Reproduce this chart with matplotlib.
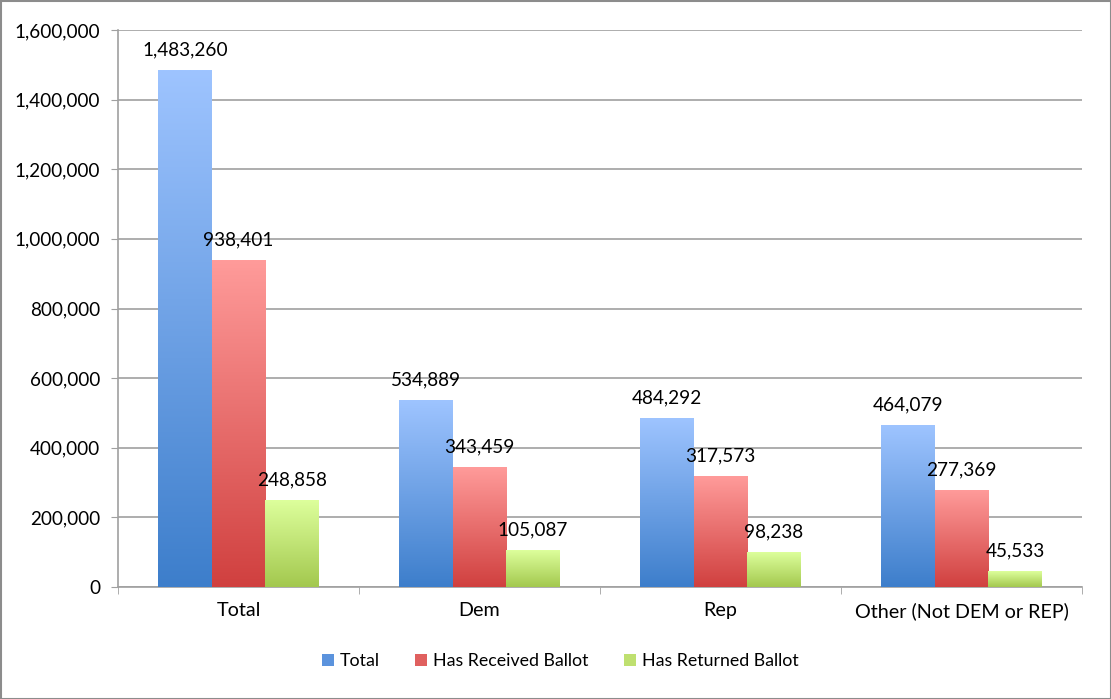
import numpy as np
import matplotlib
matplotlib.use("Agg")
import matplotlib.pyplot as plt
from matplotlib.colors import LinearSegmentedColormap
from matplotlib.patches import Patch, Rectangle
from matplotlib.ticker import FuncFormatter, FixedLocator

categories = ["Total", "Dem", "Rep", "Other (Not DEM or REP)"]
series_names = ["Total", "Has Received Ballot", "Has Returned Ballot"]
total_vals = [1483260, 534889, 484292, 464079]
received_vals = [938401, 343459, 317573, 277369]
returned_vals = [248858, 105087, 98238, 45533]
yticks = [0, 200000, 400000, 600000, 800000, 1000000, 1200000, 1400000, 1600000]

series = [total_vals, received_vals, returned_vals]
grad = [("#3d7ecb", "#9ec4ff"), ("#d0403f", "#ff9b9a"), ("#a3c84e", "#ddff9c")]
mid = ["#5b93dd", "#e0605f", "#bfe070"]

plt.rcParams['font.family'] = ['Lato', 'DejaVu Sans']
fig = plt.figure(figsize=(11.11, 6.99), dpi=100)
ax = fig.add_axes([118/1111, 1-587/699, (1082-118)/1111, (587-30)/699])

x = np.arange(len(categories))
w = 0.222
gradimg = np.linspace(0, 1, 256).reshape(-1, 1)
for i, vals in enumerate(series):
    offs = (i - 1) * w
    bars = ax.bar(x + offs, vals, width=w, color=mid[i], zorder=2)
    cmap = LinearSegmentedColormap.from_list("g%d" % i, list(grad[i]))
    for b, v in zip(bars, vals):
        b.set_alpha(0)
        x0 = b.get_x()
        ax.imshow(gradimg, cmap=cmap, extent=[x0, x0 + w, 0, v], origin="lower",
                  aspect="auto", zorder=3, interpolation="bilinear")
        ax.annotate(f"{v:,}", (x0 + w/2, v), xytext=(0, 10.8), textcoords="offset points",
                    ha="center", va="baseline", fontsize=13.7, color="black", zorder=4)

ax.set_xlim(-0.5, len(categories) - 0.5)
ax.set_ylim(0, 1600000)
ax.set_yticks(yticks)
ax.yaxis.set_major_formatter(FuncFormatter(lambda v, p: f"{int(v):,}"))
ax.yaxis.grid(True, color="#a0a0a0", linewidth=1.2, zorder=0)
ax.set_axisbelow(True)
ax.set_xticks(x)
ax.set_xticklabels(categories)
ax.xaxis.set_minor_locator(FixedLocator(np.arange(-0.5, len(categories) + 0.5, 1)))
ax.tick_params(axis="x", which="major", length=0, pad=11, labelsize=14.2)
ax.tick_params(axis="x", which="minor", length=5, color="#a0a0a0", direction="out")
ax.tick_params(axis="y", length=5, color="#a0a0a0", labelsize=13.6, pad=8)
for s in ["top", "right"]:
    ax.spines[s].set_visible(False)
for s in ["left", "bottom"]:
    ax.spines[s].set_color("#a0a0a0")
    ax.spines[s].set_linewidth(1.2)

handles = [Patch(facecolor=mid[i], edgecolor="none") for i in range(3)]
fig.legend(handles, series_names, loc="center", bbox_to_anchor=(560/1111, 1-661/699),
           ncol=3, frameon=False, fontsize=12.8, handlelength=0.7, handleheight=0.7,
           handletextpad=0.3, columnspacing=2.0)

fig.patches.append(Rectangle((0.5/1111, 0.5/699), 1-1/1111, 1-1/699, transform=fig.transFigure,
                             fill=False, edgecolor="#8c8c8c", linewidth=1.5))
fig.savefig("out.png", dpi=100)
